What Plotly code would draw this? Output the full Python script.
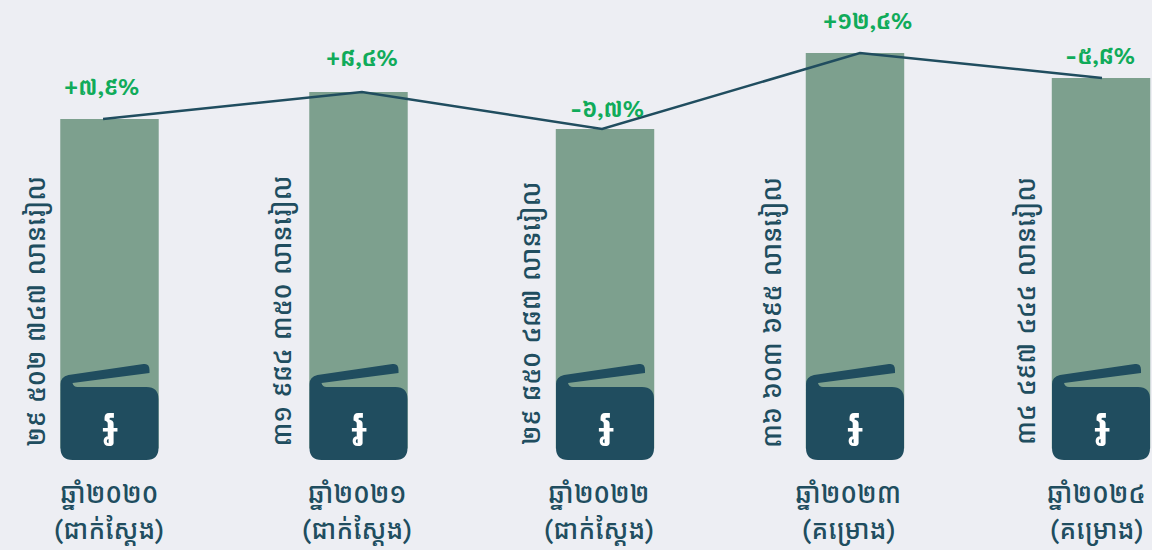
import plotly.graph_objects as go

years = ["ឆ្នាំ២០២០", "ឆ្នាំ២០២១", "ឆ្នាំ២០២២", "ឆ្នាំ២០២៣", "ឆ្នាំ២០២៤"]
status = ["(ជាក់ស្តែង)", "(ជាក់ស្តែង)", "(ជាក់ស្តែង)", "(គម្រោង)", "(គម្រោង)"]
values = [29.65, 32.0, 28.78, 35.39, 33.22]
value_labels = ["២៩ ៥០២ ៧៤៧ លានរៀល", "៣១ ៩៨៤ ៣៥០ លានរៀល", "២៩ ៨៥០ ៤៨៧ លានរៀល",
                "៣៦ ៦០៣ ៦៩៥ លានរៀល", "៣៤ ៤៩៧ ៤៤៤ លានរៀល"]
growth = ["+៧,៩%", "+៨,៤%", "-៦,៧%", "+១២,៤%", "-៥,៨%"]

# Layout of the marks (axis units for positions, pixels for shifts)
bar_x = [0.002, 1.006, 2.0, 3.008, 4.0]
line_x = [-0.024, 1.02, 1.988, 3.028, 4.004]
tick_x = [0, 1.0, 1.975, 2.98, 3.98]
growth_dx = [-2, 0, 5, 8, -2]
growth_dy = [32, 34, 20, 32, 22]
label_dx = [-73, -76, -74, -83, -75]
label_dy = [149, 149, 147, 148, 149]
BAR_BASE = 1.0

FONT = "Kantumruy Pro"
INK = "#204d5f"
GREEN = "#10ab5a"
BG = "#edeef3"
WALLET = ("M -49,12 L -49,76 Q -49,83 -41,85 L 34,96 Q 40,97 40,90 L 40,87 "
          "L -37,77 Q -36,73 -32,73 L 37,73 Q 49,73 49,61 L 49,12 Q 49,0 37,0 "
          "L -37,0 Q -49,0 -49,12 Z")

fig = go.Figure()
fig.add_trace(go.Bar(x=bar_x, y=[v - BAR_BASE for v in values], base=BAR_BASE,
                     marker=dict(color="#7da08e", line_width=0), width=0.397))
fig.add_trace(go.Scatter(x=line_x, y=values, mode="lines", line=dict(color=INK, width=2.5), cliponaxis=False))

for i, bx in enumerate(bar_x):
    fig.add_shape(type="path", path=WALLET, xref="x", yref="y", xsizemode="pixel", ysizemode="pixel",
                  xanchor=bx, yanchor=0, fillcolor=INK, line_width=0, layer="above")
    fig.add_annotation(x=bx, y=0, yshift=33, text="៛", showarrow=False,
                       font=dict(family=FONT, size=54, color="white", weight=500))
    fig.add_annotation(x=bx, y=0, xshift=label_dx[i], yshift=label_dy[i], text=value_labels[i], textangle=-90,
                       showarrow=False, font=dict(family=FONT, size=26.6, color=INK, weight=500))
    fig.add_annotation(x=line_x[i], y=values[i], xshift=growth_dx[i], yshift=growth_dy[i], text=growth[i],
                       showarrow=False, font=dict(family=FONT, size=23.5, color=GREEN, weight=600))
    fig.add_annotation(x=tick_x[i], y=0, yshift=-70, text=status[i], showarrow=False,
                       font=dict(family=FONT, size=26.5, color=INK, weight=500))

fig.update_layout(width=1152, height=550, paper_bgcolor=BG, plot_bgcolor=BG, showlegend=False,
                  margin=dict(l=0, r=0, t=0, b=90), barmode="overlay")
fig.update_xaxes(range=[-0.4395, 4.2056], tickmode="array", tickvals=tick_x, ticktext=years,
                 tickfont=dict(family=FONT, size=27, color=INK, weight=500), showgrid=False, zeroline=False,
                 showline=False, ticks="", ticklabelstandoff=15)
fig.update_yaxes(range=[0, 40], visible=False)
fig.write_html("out.html", config={"displayModeBar": False},
               post_script="document.body.style.margin='0';document.body.style.background='#edeef3';")
